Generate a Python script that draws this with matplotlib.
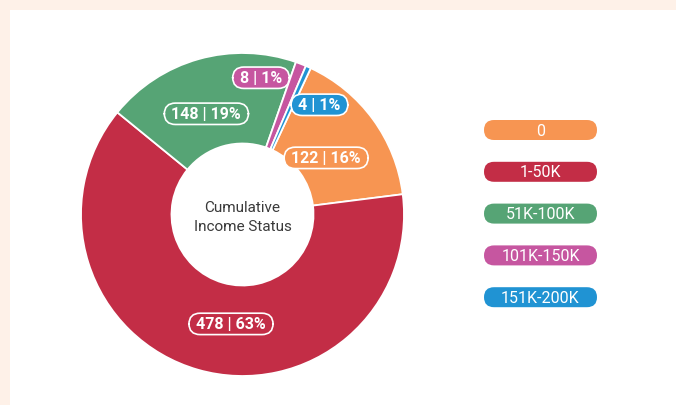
import numpy as np
import matplotlib.pyplot as plt
from matplotlib.patches import Rectangle, FancyBboxPatch

# datos del grafico
categorias = ['0', '1-50K', '51K-100K', '101K-150K', '151K-200K']
conteos = [122, 478, 148, 8, 4]
porcentajes = [16, 63, 19, 1, 1]
colores = ['#F79552', '#C32D46', '#56A475', '#C656A0', '#2093D3']
titulo_centro = 'Cumulative\nIncome Status'

plt.rcParams['font.family'] = ['Roboto', 'DejaVu Sans']

W, H = 676, 406
fig = plt.figure(figsize=(W / 100, H / 100), dpi=100, facecolor='#FEF1E8')
ax = fig.add_axes([0, 0, 1, 1])

# panel blanco
ax.add_patch(Rectangle((10, 0), W - 10, H - 11, facecolor='white', edgecolor='none', zorder=0))

# dona
cx, cy, R, r_in = 242.5, H - 215.5, 161.5, 71
ax.pie(conteos, colors=colores, center=(cx, cy), radius=R, startangle=65,
       counterclock=False, frame=True,
       wedgeprops=dict(width=R - r_in, edgecolor='white', linewidth=1.3))
ax.set_xlim(0, W)
ax.set_ylim(0, H)
ax.set_aspect('auto')
ax.axis('off')

ax.text(cx, cy - 2, titulo_centro, ha='center', va='center', fontsize=11,
        color='#3a3a3a', linespacing=1.45)

# etiquetas: radio y ajuste de angulo (grados, sentido horario) para evitar solapes
ajuste_radio = [101, 110, 107, 138, 134]
ajuste_ang = [2, -10, -4, -13.5, 11]
total = sum(conteos)
inicio = 65.0
for i, (n, p) in enumerate(zip(conteos, porcentajes)):
    barrido = n / total * 360
    medio = inicio - barrido / 2 - ajuste_ang[i]
    inicio -= barrido
    a = np.deg2rad(medio)
    x = cx + ajuste_radio[i] * np.cos(a)
    y = cy + ajuste_radio[i] * np.sin(a)
    ax.text(x, y, f' {n} | {p}% ', ha='center', va='center', color='white',
            fontsize=11.5, fontweight='bold',
            bbox=dict(boxstyle='round,pad=0.2,rounding_size=0.7',
                      facecolor=colores[i], edgecolor='white', linewidth=1.2))

# leyenda en pildoras
ley_x, ley_w, ley_h = 484, 113, 20
for i, (cat, col) in enumerate(zip(categorias, colores)):
    yc = H - (131 + i * 41.8)
    ax.add_patch(FancyBboxPatch((ley_x, yc - ley_h / 2), ley_w, ley_h,
                                boxstyle=f'round,pad=0,rounding_size={ley_h / 2}',
                                facecolor=col, edgecolor='none'))
    ax.text(ley_x + ley_w / 2, yc, cat, ha='center', va='center', color='white', fontsize=11.5)

fig.savefig('out.png', dpi=100, facecolor=fig.get_facecolor())
